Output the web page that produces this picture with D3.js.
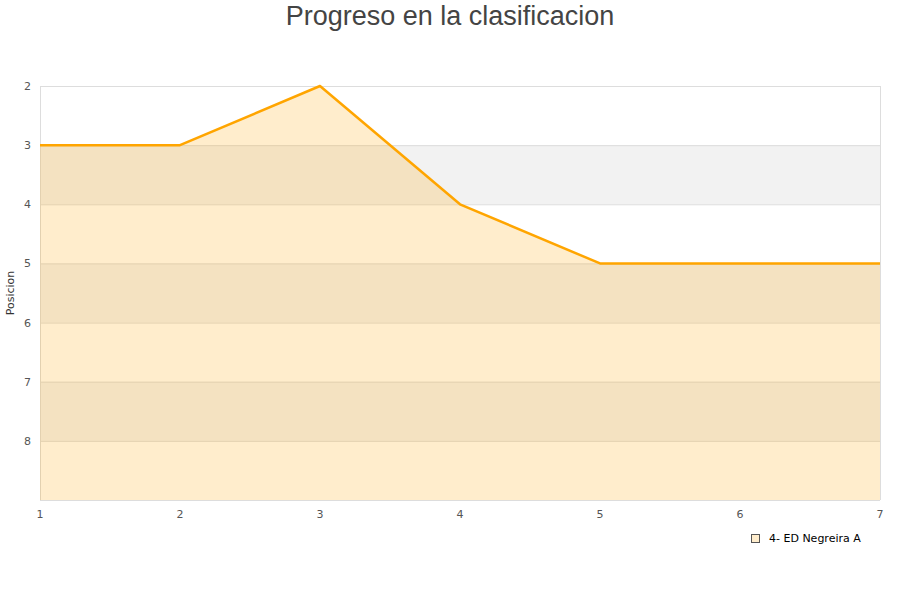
<!DOCTYPE html>
<html><head><meta charset="utf-8">
<script src="https://cdn.jsdelivr.net/npm/d3@7"></script>
<style>body{margin:0;background:#fff;font-family:"DejaVu Sans",sans-serif;}</style>
</head><body>
<svg id="c" width="900" height="600"></svg>
<script>
const rounds = [1,2,3,4,5,6,7];
const positions = [3,3,2,4,5,5,5];
const yTicks = [2,3,4,5,6,7,8];
const seriesName = "4- ED Negreira A";
const title = "Progreso en la clasificacion";
const yTitle = "Posicion";

const svg = d3.select("#c");
const m = {l:40, r:880, t:86, b:500};
const x = d3.scaleLinear().domain([1,7]).range([m.l, m.r]);
const y = d3.scaleLinear().domain([2,9]).range([m.t, m.b]);

// bands
[3,5,7].forEach(v=>{
  svg.append("rect").attr("x",m.l).attr("width",m.r-m.l)
    .attr("y",y(v)).attr("height",y(v+1)-y(v)).attr("fill","#f2f2f2");
});
// grid
svg.append("g").selectAll("line").data(yTicks.concat([9])).join("line")
  .attr("x1",m.l).attr("x2",m.r).attr("y1",d=>y(d)+0.5).attr("y2",d=>y(d)+0.5)
  .attr("stroke","#dddddd").attr("stroke-width",1);
svg.append("line").attr("x1",m.l+0.5).attr("x2",m.l+0.5).attr("y1",m.t).attr("y2",m.b).attr("stroke","#dddddd");
svg.append("line").attr("x1",m.r+0.5).attr("x2",m.r+0.5).attr("y1",m.t).attr("y2",m.b).attr("stroke","#dddddd");

const pts = rounds.map((r,i)=>[r,positions[i]]);
svg.append("path").datum(pts)
  .attr("d",d3.area().x(d=>x(d[0])).y0(y(9)).y1(d=>y(d[1])))
  .attr("fill","rgba(255,165,0,0.2)");
svg.append("path").datum(pts)
  .attr("d",d3.line().x(d=>x(d[0])).y(d=>y(d[1])))
  .attr("fill","none").attr("stroke","#ffa500").attr("stroke-width",2.5).attr("stroke-linejoin","round");

// y axis labels
svg.append("g").selectAll("text").data(yTicks).join("text")
  .attr("x",31).attr("y",d=>y(d)+4).attr("text-anchor","end")
  .attr("font-size",11).attr("fill","#555").text(d=>d);
// x axis labels
svg.append("g").selectAll("text").data(rounds).join("text")
  .attr("x",d=>x(d)).attr("y",518).attr("text-anchor","middle")
  .attr("font-size",11).attr("fill","#555").text(d=>d);

svg.append("text").attr("x",450).attr("y",25).attr("text-anchor","middle")
  .attr("font-family","'Liberation Sans',Arial,sans-serif")
  .attr("font-size",27).attr("fill","#444").text(title);
svg.append("text").attr("transform","translate(14,293) rotate(-90)").attr("text-anchor","middle")
  .attr("font-size",11).attr("fill","#333").text(yTitle);

// legend
svg.append("rect").attr("x",751.5).attr("y",534.5).attr("width",8).attr("height",8)
  .attr("fill","rgba(255,165,0,0.2)").attr("stroke","#555").attr("stroke-width",1);
svg.append("text").attr("x",769).attr("y",542).attr("font-size",11).attr("fill","#000").text(seriesName);
</script>
</body></html>
